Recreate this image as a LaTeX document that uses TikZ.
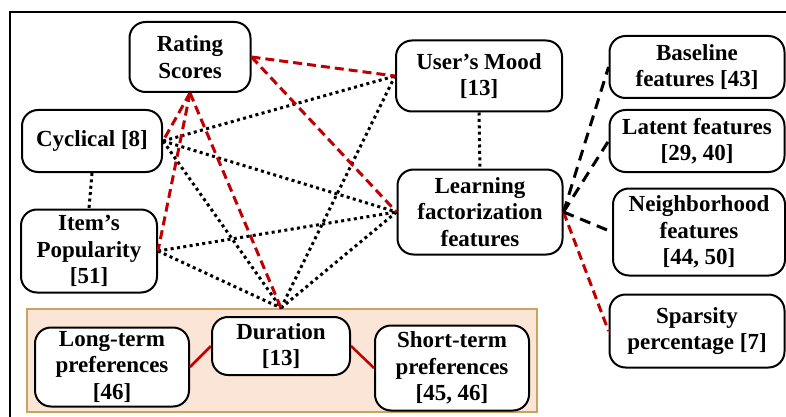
\documentclass[tikz,border=0pt]{standalone}
\usepackage{fontspec}
\setmainfont{Liberation Serif}
\usepackage{tikz}
\usetikzlibrary{calc,positioning}

\definecolor{darkred}{RGB}{192,0,0}
\definecolor{peach}{RGB}{251,229,214}
\definecolor{tan}{RGB}{200,165,95}

\tikzset{
  box/.style={draw, line width=2pt, rounded corners=16pt, fill=white, align=center,
    inner sep=0pt, font=\fontsize{23}{26.5}\selectfont\bfseries},
  reddash/.style={darkred, line width=3pt, dash pattern=on 9pt off 5pt},
  blackdot/.style={black, line width=3pt, dash pattern=on 3pt off 3.4pt},
  blackdash/.style={black, line width=3pt, dash pattern=on 11pt off 7pt}
}

\begin{document}
\begin{tikzpicture}[x=1pt,y=-1pt]
\useasboundingbox (0,0) rectangle (786,417);

% 外枠
\draw[line width=1.8pt] (10,417) -- (10,12) -- (786,12);

% 時間のグループ
\draw[tan, fill=peach, line width=1.4pt] (27,309) rectangle (537,412);

% ノード
\node[box, minimum width=121pt, minimum height=70pt] (rating) at (190,57) {Rating\\Scores};
\node[box, minimum width=140pt, minimum height=62pt] (cyclical) at (92,141) {Cyclical [8]};
\node[box, minimum width=136pt, minimum height=83pt] (item) at (89,251) {Item’s\\Popularity\\{[51]}};
\node[box, minimum width=138pt, minimum height=58pt] (duration) at (281,346) {Duration\\{[13]}};
\node[box, minimum width=154pt, minimum height=79pt] (longterm) at (112,367) {Long-term\\preferences\\{[46]}};
\node[box, minimum width=154pt, minimum height=85pt] (shortterm) at (452,368) {Short-term\\preferences\\{[45, 46]}};
\node[box, minimum width=166pt, minimum height=71pt] (mood) at (479,76) {User’s Mood\\{[13]}};
\node[box, minimum width=165pt, minimum height=85pt] (learning) at (480,212) {Learning\\factorization\\features};
\node[box, minimum width=175pt, minimum height=62pt] (baseline) at (697,67) {Baseline\\features [43]};
\node[box, minimum width=175pt, minimum height=62pt] (latent) at (697,141) {Latent features\\{[29, 40]}};
\node[box, minimum width=172pt, minimum height=87pt] (neighbor) at (699,232) {Neighborhood\\features\\{[44, 50]}};
\node[box, minimum width=175pt, minimum height=73pt] (sparsity) at (697,331) {Sparsity\\percentage [7]};

\coordinate (dtop) at ([yshift=8pt]duration.north);

% 点線
\foreach \a/\b in {cyclical.south/item.north, mood.south/learning.north,
    cyclical.east/mood.west, cyclical.east/learning.west, cyclical.east/dtop,
    item.east/learning.west, item.east/dtop, dtop/mood.west, dtop/learning.west} {
  \draw[blackdot] (\a) -- (\b);
}

% 赤い破線
\foreach \a/\b in {rating.east/mood.west, rating.east/learning.west,
    rating.south/cyclical.east, rating.south/item.east, rating.south/dtop,
    learning.east/sparsity.west} {
  \draw[reddash] (\a) -- (\b);
}

% 黒い破線
\foreach \b in {baseline, latent, neighbor} {
  \draw[blackdash] (learning.east) -- (\b.west);
}

% 実線
\draw[darkred, line width=2.5pt] (longterm.east) -- (duration.west);
\draw[darkred, line width=2.5pt] (duration.east) -- (shortterm.west);

\end{tikzpicture}
\end{document}
